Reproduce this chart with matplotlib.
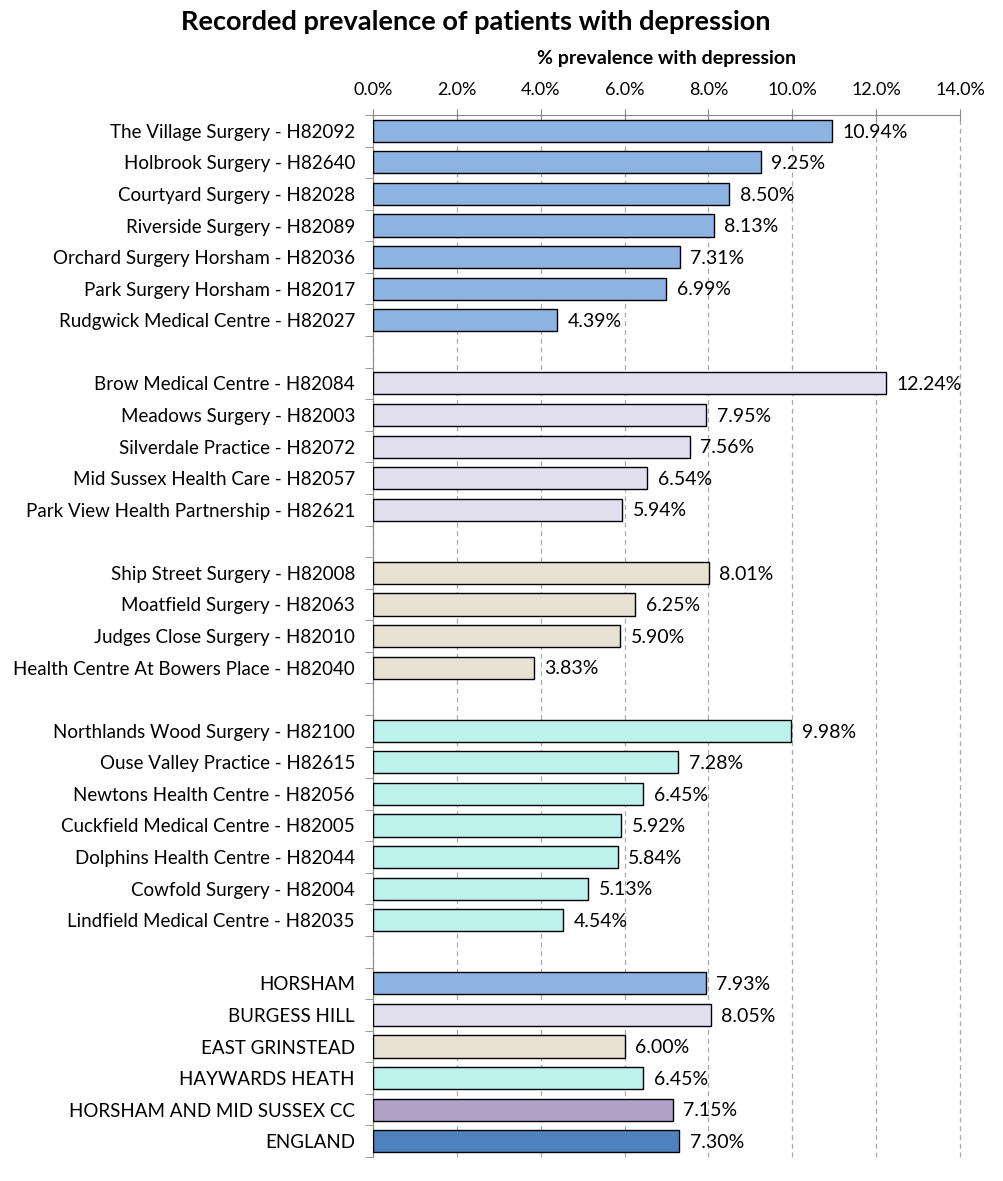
import matplotlib
matplotlib.use("Agg")
import matplotlib.pyplot as plt
from matplotlib.ticker import FuncFormatter, MultipleLocator
import numpy as np

plt.rcParams['font.family'] = ['Lato', 'DejaVu Sans']

group_horsham = ["The Village Surgery - H82092", "Holbrook Surgery - H82640", "Courtyard Surgery - H82028",
                 "Riverside Surgery - H82089", "Orchard Surgery Horsham - H82036", "Park Surgery Horsham - H82017",
                 "Rudgwick Medical Centre - H82027"]
vals_horsham = [10.94, 9.25, 8.50, 8.13, 7.31, 6.99, 4.39]

group_burgess = ["Brow Medical Centre - H82084", "Meadows Surgery - H82003", "Silverdale Practice - H82072",
                 "Mid Sussex Health Care - H82057", "Park View Health Partnership - H82621"]
vals_burgess = [12.24, 7.95, 7.56, 6.54, 5.94]

group_eg = ["Ship Street Surgery - H82008", "Moatfield Surgery - H82063", "Judges Close Surgery - H82010",
            "Health Centre At Bowers Place - H82040"]
vals_eg = [8.01, 6.25, 5.90, 3.83]

group_hh = ["Northlands Wood Surgery - H82100", "Ouse Valley Practice - H82615", "Newtons Health Centre - H82056",
            "Cuckfield Medical Centre - H82005", "Dolphins Health Centre - H82044", "Cowfold Surgery - H82004",
            "Lindfield Medical Centre - H82035"]
vals_hh = [9.98, 7.28, 6.45, 5.92, 5.84, 5.13, 4.54]

group_summary = ["HORSHAM", "BURGESS HILL", "EAST GRINSTEAD", "HAYWARDS HEATH", "HORSHAM AND MID SUSSEX CC", "ENGLAND"]
vals_summary = [7.93, 8.05, 6.00, 6.45, 7.15, 7.30]

c_h, c_b, c_e, c_hh = "#8DB3E2", "#E1DFEE", "#E5E1D3", "#BDF1EB"
summary_colors = [c_h, c_b, c_e, c_hh, "#B2A2C7", "#4F81BD"]

labels, values, colors = [], [], []
groups = [(group_horsham, vals_horsham, [c_h] * 7),
          (group_burgess, vals_burgess, [c_b] * 5),
          (group_eg, vals_eg, [c_e] * 4),
          (group_hh, vals_hh, [c_hh] * 7),
          (group_summary, vals_summary, summary_colors)]
for i, (g, v, c) in enumerate(groups):
    labels += g
    values += v
    colors += c
    if i < len(groups) - 1:
        labels.append("")
        values.append(np.nan)
        colors.append("white")

n = len(labels)
y = np.arange(n)

fig = plt.figure(figsize=(10.04, 11.81), dpi=100)
ax = fig.add_axes([0.3715, 0.0203, 0.5847, 0.8823])

for yi, v, c in zip(y, values, colors):
    if np.isnan(v):
        continue
    ax.barh(yi, v, height=0.7, color=c, edgecolor="black", linewidth=1.0, zorder=3)
    ax.text(v + 0.25, yi + 0.04, f"{v:.2f}%", va="center", ha="left", fontsize=14, zorder=4)

ax.set_ylim(n - 0.5, -0.5)
ax.set_xlim(0, 14)
ax.xaxis.set_major_locator(MultipleLocator(2))
ax.xaxis.set_major_formatter(FuncFormatter(lambda x, p: f"{x:.1f}%"))
ax.xaxis.tick_top()
ax.xaxis.set_label_position("top")
ax.tick_params(axis="x", direction="inout", length=8, color="#888888", labelsize=13, pad=8)
ax.set_xlabel("% prevalence with depression", fontsize=14, fontweight="bold", labelpad=13)

ax.set_yticks(y)
ax.set_yticklabels(labels, fontsize=13.5)
ax.tick_params(axis="y", which="major", length=0, pad=13)
ax.set_yticks(np.arange(n + 1) - 0.5, minor=True)
ax.tick_params(axis="y", which="minor", direction="out", length=6, color="#888888")

ax.grid(axis="x", linestyle=(0, (4, 3)), color="#AAAAAA", linewidth=0.9, zorder=0)
for gl in ax.get_xgridlines():
    gl.set_clip_on(False)
for s in ["right", "bottom"]:
    ax.spines[s].set_visible(False)
ax.spines["top"].set_color("#888888")
ax.spines["left"].set_color("#888888")

fig.text(0.474, 0.981, "Recorded prevalence of patients with depression", ha="center", va="center",
         fontsize=19.5, fontweight="bold")

fig.savefig("out.png", dpi=100)
